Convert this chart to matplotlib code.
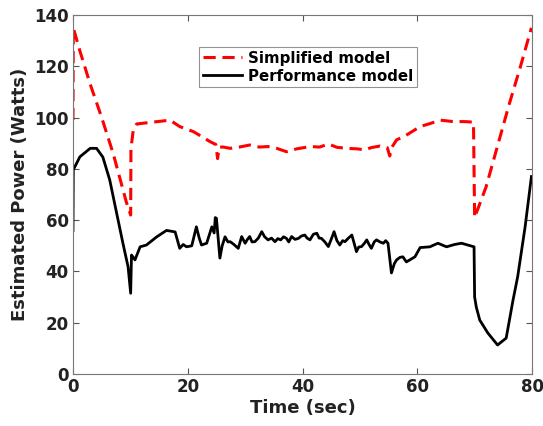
import numpy as np
import matplotlib
matplotlib.use('Agg')
import matplotlib.pyplot as plt

# Simplified model (red dashed)
t_simp = [0, 0.05, 1.2, 3.0, 5.0, 7.0, 9.3, 10.05, 10.1, 10.5, 11.1, 13.0, 15.0, 16.9,
          18.6, 21.0, 22.5, 23.9, 24.9, 25.2, 25.5, 26.2, 27.4, 29.0, 30.8, 32.5, 34.0,
          35.5, 37.2, 39.0, 41.3, 43.0, 44.5, 46.0, 47.7, 49.5, 50.9, 52.0, 53.5, 54.8,
          55.2, 55.6, 56.4, 58.0, 60.5, 62.0, 64.0, 66.0, 68.6, 69.8, 70.0, 72.0, 74.0,
          76.0, 78.0, 79.9]
p_simp = [99, 135, 126, 113, 100, 86, 67, 62, 88, 95, 97.5, 98, 98.5, 99,
          96.5, 94.5, 92.5, 90.6, 89.5, 84, 88.5, 88.5, 88, 88.5, 89.3, 88.5, 88.7,
          88.0, 86.7, 87.8, 88.7, 88.5, 89.7, 88.4, 88.0, 87.8, 87.4, 88.3, 88.9, 88.2,
          85, 88.5, 91.3, 93, 96.5, 97.5, 99, 98.5, 98.4, 98.2, 61, 73, 89, 105,
          120, 135]

# Performance model (black solid)
t_perf = [0, 0.05, 1.2, 3.0, 4.1, 5.2, 6.4, 7.6, 8.7, 9.6, 10.05, 10.2, 10.5, 10.8,
          11.7, 12.8, 14.6, 16.3, 17.8, 18.6, 19.2, 19.8, 20.7, 21.5, 22.0, 22.4, 23.3,
          24.2, 24.6, 24.8, 25.0, 25.6, 26.0, 26.5, 27.0, 27.4, 28.0, 28.8, 29.4, 30.0,
          30.4, 30.8, 31.2, 31.7, 32.3, 32.9, 33.4, 34.0, 34.6, 35.2, 35.7, 36.2, 36.7,
          37.2, 37.6, 38.1, 38.7, 39.3, 39.8, 40.4, 40.8, 41.3, 41.9, 42.5, 42.9, 43.3,
          43.9, 44.5, 45.0, 45.5, 46.0, 46.5, 47.0, 47.4, 48.0, 48.6, 49.0, 49.4, 49.8,
          50.3, 50.8, 51.2, 51.6, 52.0, 52.5, 52.9, 53.5, 54.1, 54.5, 54.9, 55.5, 56.0,
          56.4, 57.0, 57.5, 58.1, 58.7, 59.6, 60.5, 62.2, 63.6, 65.1, 66.5, 67.7, 69.9,
          70.0, 70.3, 70.9, 72.3, 74.0, 75.5, 76.7, 77.5, 78.8, 79.9]
p_perf = [56, 79.6, 84.7, 88, 88, 84.6, 75.7, 62.8, 51, 41.8, 31.5, 46.4, 45.5, 44.5,
          49.6, 50.3, 53.5, 56, 55.4, 49, 50.5, 49.6, 50, 57.4, 53, 50.3, 51,
          57.4, 55, 61, 60.7, 45.2, 50, 53.5, 51.5, 51.6, 50.6, 49, 53.6, 51,
          52.5, 53.6, 51.5, 51.6, 53, 55.5, 53.5, 52.3, 53, 51.6, 52.8, 52.3, 53.5,
          52.9, 51.5, 53.6, 52.5, 52.9, 53.8, 54.2, 53, 52.3, 54.5, 54.9, 53, 52.9,
          51.5, 49.7, 52.5, 55.5, 52, 50.3, 52, 51.6, 53, 54.2, 51, 47.7, 49.5,
          49.7, 51, 52.3, 50.5, 49, 51.5, 52.3, 51.5, 51, 52, 51, 39.4, 43,
          44.5, 45.5, 45.7, 43.7, 44.5, 45.7, 49.3, 49.6, 51, 49.6, 50.5, 51, 49.6,
          30, 26, 21, 16, 11.3, 14, 28.9, 37.9, 57.4, 77]

x_ticks = [0, 20, 40, 60, 80]
y_ticks = [0, 20, 40, 60, 80, 100, 120, 140]

plt.rcParams['font.family'] = 'DejaVu Sans'
plt.rcParams['font.weight'] = 'bold'

fig = plt.figure(figsize=(5.43, 4.26), dpi=100)
ax = fig.add_axes([73 / 543, 1 - 374 / 426, 459 / 543, 359 / 426])

ax.plot(t_simp, p_simp, color='#ff0000', lw=2.2, dashes=(4, 2.2), label='Simplified model')
ax.plot(t_perf, p_perf, color='black', lw=2.0, label='Performance model')

ax.set_xlim(0, 80)
ax.set_ylim(0, 140)
ax.set_xticks(x_ticks)
ax.set_yticks(y_ticks)
ax.tick_params(direction='in', top=True, right=True, labelsize=12, length=4,
               color='#555555', pad=3)
for lab in ax.get_xticklabels() + ax.get_yticklabels():
    lab.set_fontweight('bold')
    lab.set_color('#222222')
for sp in ax.spines.values():
    sp.set_color('#777777')
    sp.set_linewidth(0.8)

ax.set_xlabel('Time (sec)', fontsize=13, fontweight='bold', color='#222222', labelpad=2)
ax.set_ylabel('Estimated Power (Watts)', fontsize=13, fontweight='bold', color='#222222', labelpad=4)

leg = ax.legend(loc='upper left', bbox_to_anchor=(0.275, 0.911), fontsize=10.8,
                frameon=True, fancybox=False, edgecolor='#777777', borderpad=0.25,
                labelspacing=0.2, handlelength=2.6, handletextpad=0.4, borderaxespad=0)
leg.get_frame().set_linewidth(0.8)
for txt in leg.get_texts():
    txt.set_fontweight('bold')

fig.savefig('out.png', dpi=100)
